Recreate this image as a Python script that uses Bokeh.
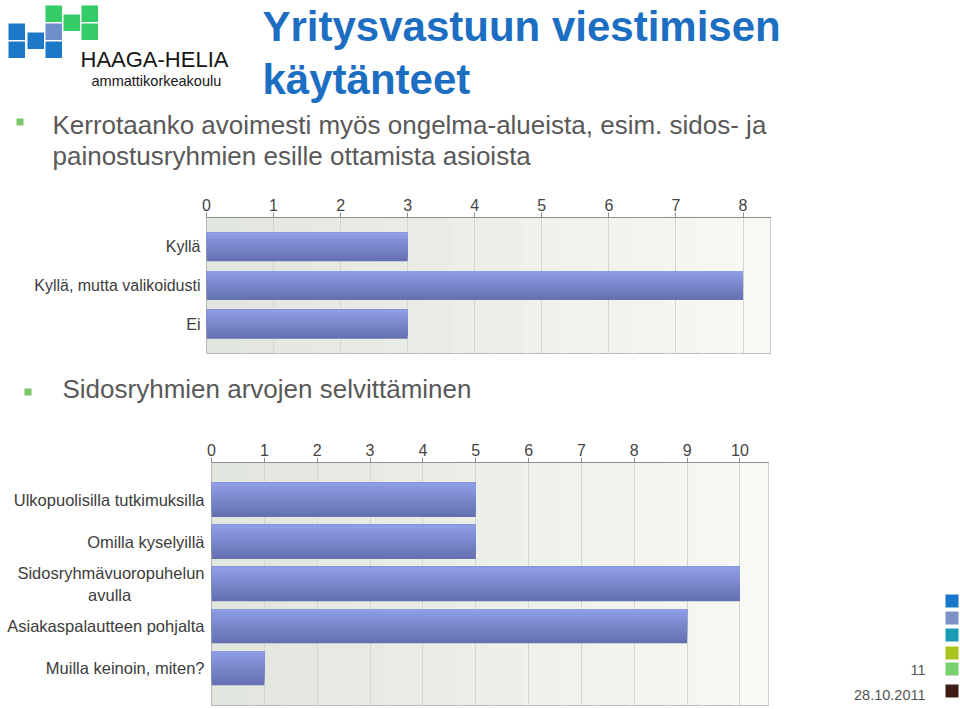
from bokeh.plotting import figure
from bokeh.layouts import row
from bokeh.models import Range1d, FactorRange, FixedTicker, BoxAnnotation, ColumnDataSource
from bokeh.transform import dodge
from bokeh.core.properties import value
from bokeh.embed import file_html
from bokeh.resources import INLINE

# ---------------- data ----------------
title_lines = ["Yritysvastuun viestimisen", "käytänteet"]
logo_name = "HAAGA-HELIA"
logo_sub = "ammattikorkeakoulu"
q1_lines = ["Kerrotaanko avoimesti myös ongelma-alueista, esim. sidos- ja",
            "painostusryhmien esille ottamista asioista"]
q1_categories = ["Kyllä", "Kyllä, mutta valikoidusti", "Ei"]
q1_values = [3, 8, 3]
q1_ticks = [0, 1, 2, 3, 4, 5, 6, 7, 8]
q2_title = "Sidosryhmien arvojen selvittäminen"
q2_categories = ["Ulkopuolisilla tutkimuksilla", "Omilla kyselyillä",
                 "Sidosryhmävuoropuhelun\navulla" + "\u00a0" * 16,
                 "Asiakaspalautteen pohjalta", "Muilla keinoin, miten?"]
q2_values = [5, 5, 10, 9, 1]
q2_ticks = [0, 1, 2, 3, 4, 5, 6, 7, 8, 9, 10]
slide_number = "11"
slide_date = "28.10.2011"

FONT = "Liberation Sans"


def hexlerp(a, b, t):
    a = [int(a[i:i + 2], 16) for i in (1, 3, 5)]
    b = [int(b[i:i + 2], 16) for i in (1, 3, 5)]
    return "#%02x%02x%02x" % tuple(int(round(a[j] + (b[j] - a[j]) * t)) for j in range(3))


def deco_fig(w, h, x0, x1, y0, y1, top=0, bottom=0):
    f = figure(width=w, height=h, x_range=Range1d(x0, x1), y_range=Range1d(y1, y0),
               x_axis_type=None, y_axis_type=None, output_backend="svg",
               toolbar_location=None, min_border=0,
               min_border_top=top, min_border_bottom=bottom)
    f.outline_line_color = None
    f.background_fill_color = "white"
    f.border_fill_color = "white"
    return f


def bar_chart(cats, vals, ticks, x_end, w, h, left, top, bottom, right,
              bar_h, pad, fs, standoff):
    factors = list(reversed(cats))
    p = figure(width=w, height=h, x_range=Range1d(0, x_end),
               y_range=FactorRange(factors=factors, range_padding=pad,
                                   range_padding_units="absolute"),
               x_axis_location="above", output_backend="svg", toolbar_location=None,
               min_border_left=left, min_border_top=top, min_border_bottom=bottom,
               min_border_right=right)
    p.border_fill_color = "white"
    p.background_fill_color = "#EEF0EB"
    p.outline_line_color = "#A8A8A8"
    # background gradient of the plotting area
    n = 16
    boxes = []
    for i in range(n):
        boxes.append(BoxAnnotation(left=x_end * i / n, right=x_end * (i + 1) / n + x_end * 0.01,
                                   fill_color=hexlerp("#E1E6DE", "#F8F8F5", i / (n - 1)),
                                   fill_alpha=1, line_alpha=0, level="underlay"))
    p.center = boxes + list(p.center)

    p.xgrid.ticker = FixedTicker(ticks=ticks)
    p.xgrid.grid_line_color = "#D3D7D0"
    p.ygrid.visible = False

    xa = p.xaxis[0]
    xa.ticker = FixedTicker(ticks=ticks)
    xa.axis_line_color = "#8E8E8E"
    xa.major_tick_line_color = "#8E8E8E"
    xa.major_tick_out = 5
    xa.major_tick_in = 0
    xa.minor_tick_line_color = None
    xa.major_label_text_font = FONT
    xa.major_label_text_font_size = "16px"
    xa.major_label_text_color = "#444444"
    xa.major_label_standoff = 2

    ya = p.yaxis[0]
    ya.axis_line_color = None
    ya.major_tick_line_color = None
    ya.minor_tick_line_color = None
    ya.major_tick_out = 0
    ya.major_tick_in = 0
    ya.major_label_text_font = FONT
    ya.major_label_text_font_size = fs
    ya.major_label_text_color = "#3C3C3C"
    ya.major_label_standoff = standoff

    src = ColumnDataSource(dict(cat=cats, val=vals))
    k = 10
    for i in range(k):
        hh = bar_h * (k - i) / k
        off = bar_h / 2 - hh / 2
        col = hexlerp("#6571B1", "#8E9DE4", i / (k - 1))
        p.hbar(y=dodge("cat", off, range=p.y_range), height=hh, left=0, right="val",
               source=src, fill_color=col, line_color=None)
    return p


def txt(f, x, y, text, size, color, **kw):
    # shift so that the given y is the visual baseline
    shift = 0.3 * size
    f.text(x=x, y=[v - shift for v in y], text=text, text_font=value(FONT),
           text_font_size=f"{size}px", text_color=color, text_baseline="alphabetic", **kw)


# ---------------- header ----------------
hdr = deco_fig(960, 190, 0, 960, 0, 190)
logo_blue = "#1E78C8"
logo_green = "#33CC66"
logo_mid = "#6F8FC9"
sq = [(8, 23, logo_blue), (8, 41, logo_blue), (27, 32, logo_blue), (45, 41, logo_blue),
      (45, 23, logo_mid), (45, 5, logo_green), (63, 14, logo_green), (81, 5, logo_green),
      (81, 23, logo_green)]
hdr.quad(left=[s[0] for s in sq], right=[s[0] + 16.5 for s in sq],
         top=[s[1] for s in sq], bottom=[s[1] + 16.5 for s in sq],
         fill_color=[s[2] for s in sq], line_color=None)
txt(hdr, [80], [66], [logo_name], 22, "#151515")
txt(hdr, [91], [85], [logo_sub], 14.5, "#151515")
txt(hdr, [262, 262], [39, 92], title_lines, 42, "#1C6EC2", text_font_style="bold")
hdr.quad(left=[16], right=[23], top=[118], bottom=[125], fill_color="#7AC66B", line_color=None)
txt(hdr, [52, 52], [132, 163], q1_lines, 26, "#595959")

# ---------------- chart 1 ----------------
c1 = bar_chart(q1_categories, q1_values, q1_ticks, 8.41,
               960, 170, 206, 27, 7, 190, 0.75, 0.26, "16px", 6)

# ---------------- bullet 2 ----------------
t2 = deco_fig(960, 70, 0, 960, 360, 430)
t2.quad(left=[24], right=[31], top=[388], bottom=[395], fill_color="#7AC66B", line_color=None)
txt(t2, [62], [396], [q2_title], 26, "#595959")

# ---------------- chart 2 ----------------
c2 = bar_chart(q2_categories, q2_values, q2_ticks, 10.54,
               800, 278, 211, 32, 3, 32, 0.815, 0.39, "16.5px", 7)

# ---------------- side decoration ----------------
side = deco_fig(160, 278, 800, 960, 462, 705, top=32, bottom=3)
side_cols = ["#1777C8", "#7D91C6", "#199CB4", "#A8C61E", "#78D06E", "#3E1C16"]
side_y = [594, 611, 628, 646, 662, 684]
side.quad(left=[945] * 6, right=[958] * 6, top=side_y, bottom=[y + 13 for y in side_y],
          fill_color=side_cols, line_color=None)
txt(side, [925, 925], [674, 699], [slide_number, slide_date], 14.5, "#555555",
    text_align="right")

roots = [hdr, c1, t2, row(c2, side, spacing=0)]
open("out.html", "w").write(file_html(roots, INLINE, title="Yritysvastuun viestimisen käytänteet"))
